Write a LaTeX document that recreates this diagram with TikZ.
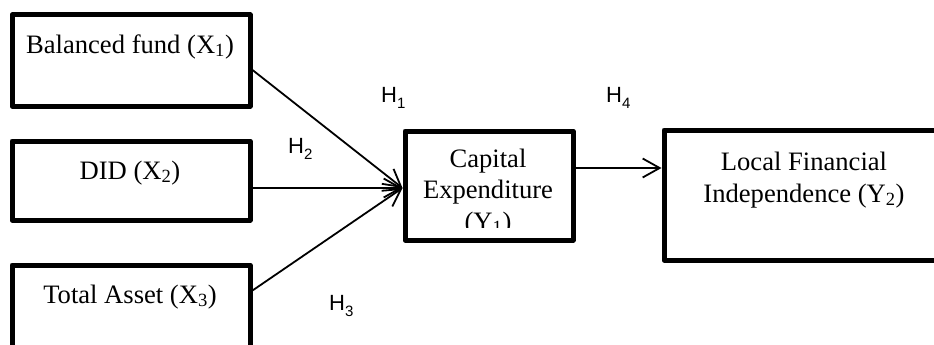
\documentclass[tikz,border=0pt]{standalone}
\usepackage{fontspec}
\setmainfont{Liberation Serif}
\newfontfamily\hsans{Liberation Sans}
\usetikzlibrary{arrows.meta}
\tikzset{
  varbox/.style={draw=black, line width=5pt, rectangle, inner sep=0pt, line join=round},
  vartext/.style={font=\fontsize{26.6}{31.5}\selectfont, anchor=base, inner sep=0pt, align=center},
  hyp/.style={font=\hsans\fontsize{22}{22}\selectfont, anchor=base west, inner sep=0pt},
  path/.style={draw=black, line width=1.8pt},
  arr/.style={path, -{Straight Barb[length=17pt,width=19pt,line width=1.8pt]}}
}
\newcommand{\hsub}[1]{\raisebox{-6pt}{\fontsize{15}{15}\selectfont #1}}
\begin{document}
\begin{tikzpicture}[x=1pt,y=-1pt]
\useasboundingbox (0,0) rectangle (934,345);
\clip (0,0) rectangle (934,345);
% boxes
\node[varbox, minimum width=238pt, minimum height=91pt] (b1) at (131,60.5) {};
\node[varbox, minimum width=238pt, minimum height=79pt] (b2) at (131,180.5) {};
\node[varbox, minimum width=238pt, minimum height=95pt] (b3) at (131,312.5) {};
\node[varbox, minimum width=168pt, minimum height=109pt] (ce) at (489,185.5) {};
\node[varbox, minimum width=290pt, minimum height=130pt] (lfi) at (809,195) {};
% texts
\node[vartext] (t1) at (130,53) {Balanced fund (X\textsubscript{1})};
\node[vartext] (t2) at (130,179) {DID (X\textsubscript{2})};
\node[vartext] (t3) at (130,303) {Total Asset (X\textsubscript{3})};
\begin{scope}
\clip ([xshift=2.5pt,yshift=-2.5pt]ce.north west) rectangle ([xshift=-2.5pt,yshift=15pt]ce.south east);
\node[vartext] (tce) at (488,230) {Capital\\Expenditure\\(Y\textsubscript{1})};
\end{scope}
\node[vartext] (tlfi) at (804,202) {Local Financial\\Independence (Y\textsubscript{2})};
% hypothesis labels
\node[hyp] (h1) at (381,102) {H\hsub{1}};
\node[hyp] (h2) at (288,153) {H\hsub{2}};
\node[hyp] (h3) at (329,310) {H\hsub{3}};
\node[hyp] (h4) at (606,102) {H\hsub{4}};
% connectors
\coordinate (tgt) at ([yshift=-2.5pt]ce.west);
\coordinate (s1) at ([yshift=-9.5pt]b1.east);
\coordinate (s3) at ([yshift=-28pt]b3.north east);
\coordinate (s4) at ([yshift=17.5pt]ce.east);
\draw[arr] (s1) -- (tgt);
\draw[arr] (b2.east |- tgt) -- (tgt);
\draw[arr] (s3) -- (tgt);
\draw[arr] (s4) -- (lfi.west |- s4);
\end{tikzpicture}
\end{document}
